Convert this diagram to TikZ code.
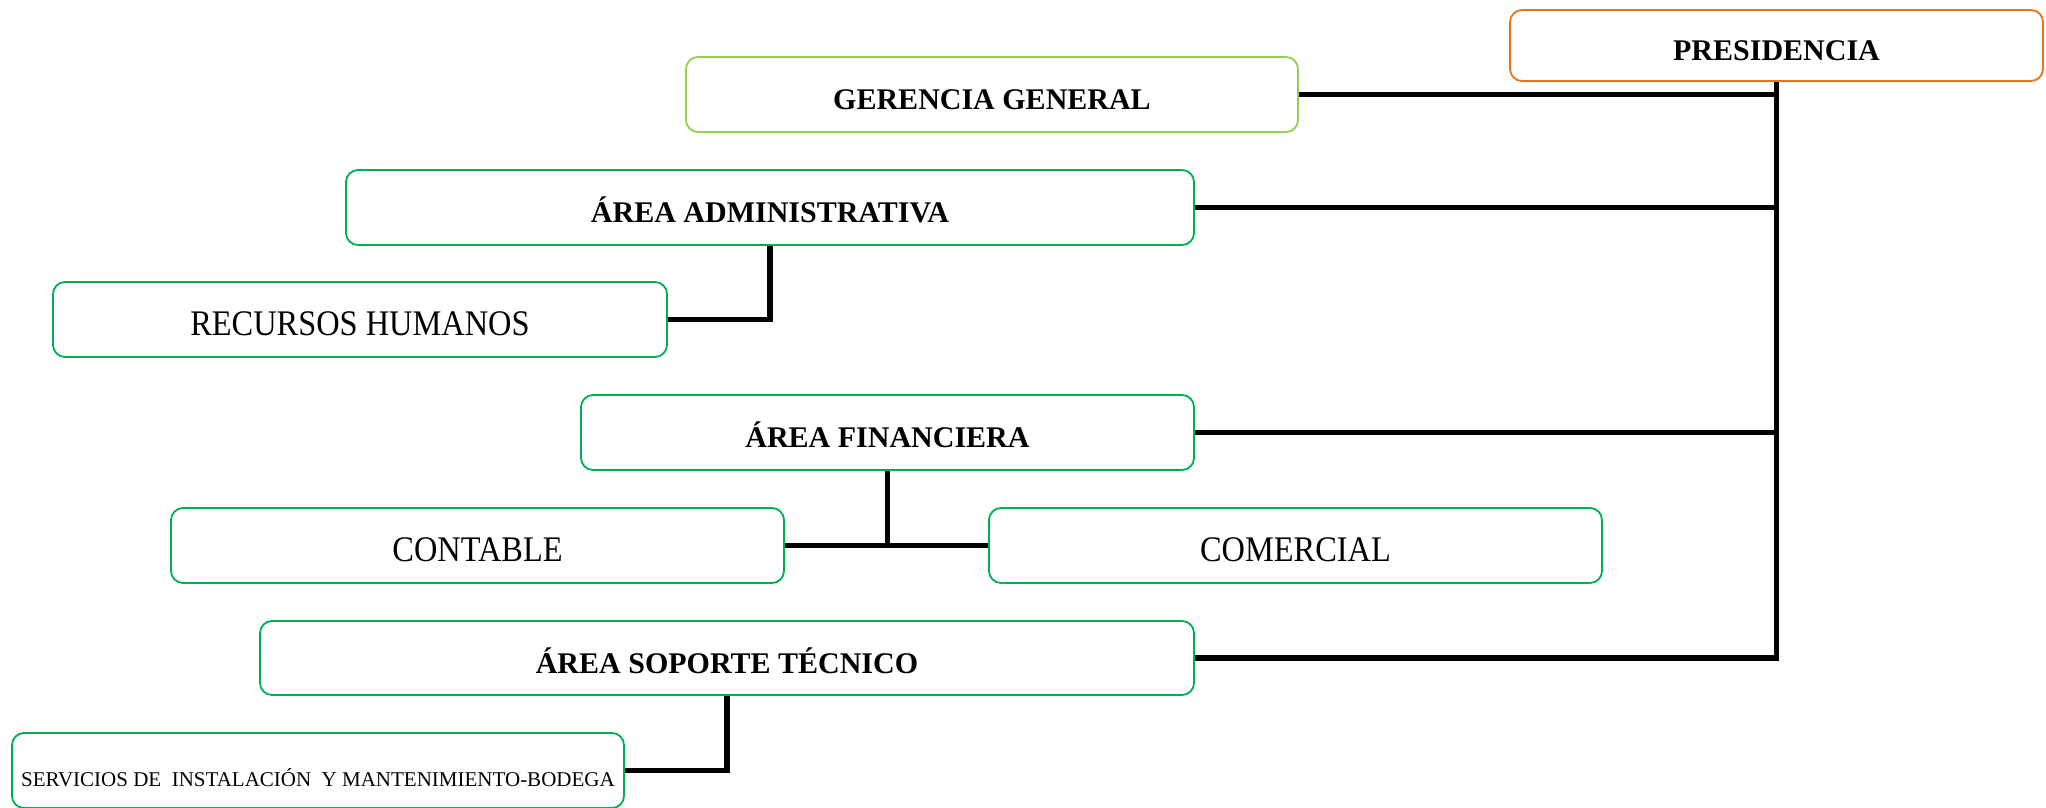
\documentclass[tikz,border=0pt]{standalone}
\usepackage{fontspec}
\setmainfont{Liberation Serif}
\newfontfamily\narrowserif[FakeStretch=0.9]{Liberation Serif}
\begin{document}
\begin{tikzpicture}[x=0.5pt,y=-0.5pt,
  box/.style={draw, line width=0.9pt, rounded corners=6pt, fill=white,
    minimum height=37.5pt, inner sep=0pt, text=black, text depth=0pt},
  boss/.style={box, draw=presorange},
  ggbox/.style={box, draw=lightgreen},
  unit/.style={box, draw=unitgreen},
  title/.style={font=\fontsize{15}{18}\selectfont\bfseries, text height=15.4pt},
  plain/.style={font=\narrowserif\fontsize{18}{21}\selectfont, text height=16.4pt},
  small/.style={font=\fontsize{10.5}{13}\selectfont, text height=16pt},
  link/.style={line width=2.6pt, line join=miter}]
\definecolor{presorange}{HTML}{E8731C}
\definecolor{lightgreen}{HTML}{92D050}
\definecolor{unitgreen}{HTML}{00B050}
\useasboundingbox (0,0) rectangle (2046,808);

% org units
\node[boss, title, minimum width=266.5pt, minimum height=35.5pt] (pres) at (1776.5,45.5) {PRESIDENCIA};
\node[ggbox, title, minimum width=306pt] (ger) at (992,94.5) {GERENCIA GENERAL};
\node[unit, title, minimum width=424pt] (adm) at (770,207.5) {ÁREA ADMINISTRATIVA};
\node[unit, plain, minimum width=307pt] (rh) at (360,319.5) {RECURSOS HUMANOS};
\node[unit, title, minimum width=306.5pt] (fin) at (887.5,432.5) {ÁREA FINANCIERA};
\node[unit, plain, minimum width=306.5pt] (cont) at (477.5,545.5) {CONTABLE};
\node[unit, plain, minimum width=306.5pt] (com) at (1295.5,545.5) {COMERCIAL};
\node[unit, title, minimum width=467pt, minimum height=37pt] (sop) at (727,658) {ÁREA SOPORTE TÉCNICO};
\node[unit, small, minimum width=306pt] (serv) at (318,770.5) {SERVICIOS DE \ INSTALACIÓN \ Y MANTENIMIENTO-BODEGA};

% reporting lines
\draw[link] (pres.south) -- (pres.south |- sop.east) -- (sop.east);
\draw[link] (ger.east) -- (ger.east -| pres.south);
\draw[link] (adm.east) -- (adm.east -| pres.south);
\draw[link] (fin.east) -- (fin.east -| pres.south);
\draw[link] (rh.east) -| (adm.south);
\draw[link] (fin.south) -- (fin.south |- cont.east);
\draw[link] (cont.east) -- (com.west);
\draw[link] (serv.east) -| (sop.south);
\end{tikzpicture}
\end{document}
